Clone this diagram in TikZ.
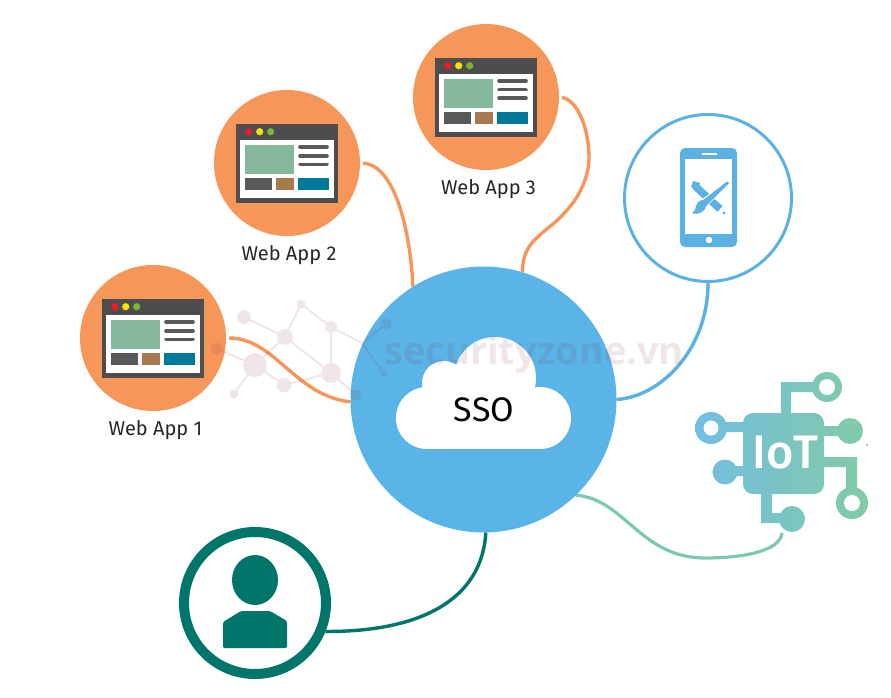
\documentclass[tikz,border=0pt]{standalone}
\usepackage{fontspec}
\setmainfont{Fira Sans}
\newfontfamily\markfont{Open Sans}
\newfontfamily\chipfont{Fira Sans Medium}
\usetikzlibrary{shapes.geometric}
\definecolor{appor}{HTML}{F79659}
\definecolor{hubblue}{HTML}{5AB4E8}
\definecolor{winedge}{HTML}{4D4D4F}
\definecolor{wingreen}{HTML}{86B89E}
\definecolor{wingrey}{HTML}{58595B}
\definecolor{winbrown}{HTML}{A8784F}
\definecolor{winteal}{HTML}{00789A}
\definecolor{dotred}{HTML}{ED1C24}
\definecolor{dotyel}{HTML}{F5E400}
\definecolor{dotgrn}{HTML}{7AB733}
\definecolor{phoneblue}{HTML}{5BB2E2}
\definecolor{userteal}{HTML}{00756A}
\definecolor{iotline}{HTML}{7CC8B4}
\definecolor{iotleft}{HTML}{72BEE2}
\definecolor{iotright}{HTML}{82CBA5}
\definecolor{marktone}{HTML}{7A1E2E}
\tikzset{
  appcircle/.style={circle,fill=appor,minimum size=146pt,inner sep=0pt,outer sep=0pt},
  applabel/.style={font=\fontsize{20}{22}\selectfont,text=black!85,inner sep=0pt},
  orangeline/.style={draw=appor,line width=3.4pt},
  gn/.style={circle,fill=marktone,inner sep=0pt,outer sep=0pt},
  ge/.style={draw=marktone,line width=2pt},
  iotfill/.style={left color=iotleft,right color=iotright},
  appwin/.pic={
    \fill[winedge] (-51,-39) rectangle (51,40);
    \fill[white] (-46.7,-23.3) rectangle (46.7,34.7);
    \fill[wingreen] (-42,-18) rectangle (7.3,11.3);
    \foreach \yy in {-16,-7.3,1.3}
      \draw[wingrey,line width=3.6pt,line cap=round] (13,\yy) -- (40,\yy);
    \fill[wingrey] (-42,15.3) rectangle (-15.3,27);
    \fill[winbrown] (-11,15.3) rectangle (7.3,27);
    \fill[winteal] (11,15.3) rectangle (41.7,27);
    \fill[dotred] (-38.3,-31.3) circle (3.6);
    \fill[dotyel] (-27.3,-31.3) circle (3.6);
    \fill[dotgrn] (-16.3,-31.3) circle (3.6);
  }
}
\begin{document}
\begin{tikzpicture}[x=1pt,y=-1pt]
\useasboundingbox (0,0) rectangle (891,698);
% nodes that the connectors attach to
\node[appcircle] (wa1) at (153,338) {};
\node[appcircle] (wa2) at (287,163) {};
\node[appcircle] (wa3) at (486,97) {};
\node[circle,draw=phoneblue,line width=3pt,fill=white,minimum size=167pt,inner sep=0pt,outer sep=1.5pt] (mob) at (708,198) {};
\node[circle,draw=userteal,line width=10pt,fill=white,minimum size=142pt,inner sep=0pt,outer sep=5pt] (usr) at (255,603) {};
\coordinate (iotend) at (782,533);
\node[circle,inner sep=0pt,outer sep=0pt,minimum size=266pt] (hub) at (483.5,399.5) {};
% connectors
\draw[orangeline,shorten <=3pt] (wa1.east) .. controls (275,338) and (295,396) .. (hub.181);
\draw[orangeline,shorten <=3pt] (wa2.east) .. controls (395,165) and (410,230) .. (hub.122);
\draw[orangeline,shorten <=3pt] (wa3.east) .. controls (578,100) and (589,130) .. (589,157)
   .. controls (589,190) and (565,215) .. (548,228) .. controls (530,243) and (523,250) .. (hub.73);
\draw[phoneblue,line width=3.4pt] (mob.south) .. controls (708,350) and (660,397) .. (hub.0);
\draw[iotline,line width=3.2pt] (hub.-46) .. controls (625,499) and (640,558) .. (705,558)
   .. controls (740,558) and (780,552) .. (iotend);
\draw[userteal,line width=3.4pt] (usr.-22) .. controls (420,632) and (482,600) .. (hub.-89);
% hub
\fill[hubblue] (hub) circle (133);
\fill[white] (427,418) circle (31);
\fill[white] (540,418) circle (31);
\fill[white] (495,378) circle (41);
\fill[white] (444,383) circle (22);
\fill[white] (427,400) rectangle (540,449);
\node[font=\fontsize{34}{38}\selectfont,text=black,inner sep=0pt] (sso) at (484,410) {SSO};
% app windows
\pic at (wa1) {appwin};
\pic at (wa2) {appwin};
\pic at (wa3) {appwin};
\node[applabel] (l1) at (155.5,430) {Web App 1};
\node[applabel] (l2) at (289,255) {Web App 2};
\node[applabel] (l3) at (488.5,189) {Web App 3};
% phone
\fill[phoneblue,rounded corners=5pt] (680,148) rectangle (737,247);
\fill[white] (685,159) rectangle (732,234);
\draw[white,line width=1.5pt] (702,154) -- (717,154);
\fill[white] (709,240) circle (3.2);
\draw[phoneblue,line width=7.5pt] (695,186) -- (720,209);
\fill[phoneblue] (693,181) -- (700,183) -- (698,190) -- (691,187) -- cycle;
\fill[phoneblue] (724,213) circle (1.6);
\fill[white] (729,181) -- (705,197) -- (697,203) -- (700,211) -- (708,205) -- (731,183) -- cycle;
\fill[phoneblue] (727,181.5) -- (729,183) -- (706,206) -- (702,201) -- cycle;
\fill[phoneblue] (702,200) .. controls (697,201) and (696,206) .. (695,210) .. controls (694,212) and (692,213) .. (692,213.5)
  .. controls (698,215) and (706,212) .. (706,205) -- cycle;
% user
\fill[userteal] (255,580) ellipse (23 and 25);
\fill[userteal,rounded corners=1.5pt] (223,648) -- (223,622) -- (241,611) -- (270,611) -- (287,621) -- (287,648) -- cycle;
% IoT chip
\begin{scope}
  \clip[rounded corners=10pt] (743,413) rectangle (824,494);
  \shade[iotfill] (695,370) rectangle (870,535);
\end{scope}
\begin{scope}
  \clip (781,413) rectangle (791,382) (781,392) rectangle (815,382)
        (827,387) circle (15) (711,428) circle (16) (711,432) rectangle (745,422)
        (725,472) circle (12.5) (725,476) rectangle (745,466)
        (850,431) circle (13) (822,436) rectangle (850,426)
        (822,467) rectangle (857,457) (846,495) rectangle (857,457) (852,503) circle (16)
        (761,523) rectangle (772,492) (761,523) rectangle (790,513) (792,519) circle (13);
  \shade[iotfill] (695,370) rectangle (870,535);
\end{scope}
\fill[white] (827,387) circle (8);
\fill[white] (711,428) circle (7.5);
\fill[white] (852,503) circle (8);
\node[font=\chipfont\fontsize{47}{50}\selectfont,text=white,inner sep=0pt] (iot) at (785.5,453) {IoT};
\node[circle,fill=black!40,inner sep=0pt,minimum size=2pt] (speck) at (867,445) {};
% watermark
\begin{scope}[transparency group,opacity=.11]
  \node[gn,minimum size=14pt] (ga) at (244,317) {};
  \node[gn,minimum size=16pt] (gb) at (285,337) {};
  \node[gn,minimum size=9pt] (gc) at (301,304) {};
  \node[gn,minimum size=12pt] (gd) at (331,327) {};
  \node[gn,minimum size=24pt] (ge) at (255,365) {};
  \node[gn,minimum size=20pt] (gf) at (331,373) {};
  \node[gn,minimum size=15pt] (gg) at (284,385) {};
  \node[gn,minimum size=9pt] (gh) at (234,394) {};
  \node[gn,minimum size=12pt] (gi) at (217,349) {};
  \node[gn,minimum size=11pt] (gj) at (386,324) {};
  \node[gn,minimum size=7pt] (gk) at (384,374) {};
  \node[gn,minimum size=11pt] (gl) at (356,395) {};
  \coordinate (gm) at (362,343);
  \draw[ge] (ga)--(gb) (gb)--(gc) (gc)--(gd) (gb)--(gf) (gd)--(gf) (gi)--(ge) (ge)--(gb)
    (ge)--(gh) (ge)--(gg) (gg)--(gf) (gf)--(gl) (gd)--(gm) (gm)--(gj) (gm)--(gk);
  \node[font=\markfont\bfseries\fontsize{38}{44}\selectfont,text=marktone,inner sep=0pt,anchor=base west] (mark) at (384,364) {securityzone.vn};
\end{scope}
\end{tikzpicture}
\end{document}
